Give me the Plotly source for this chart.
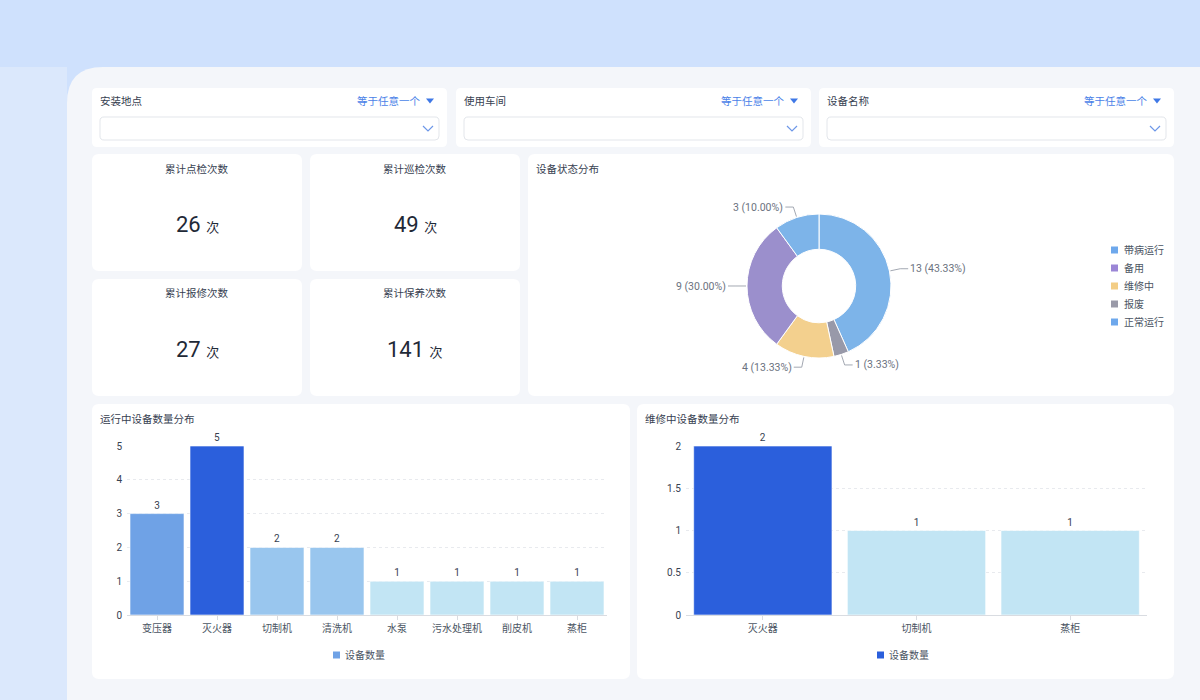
import math
import plotly.graph_objects as go

W, H = 1200, 700

# ---------------- data ----------------
filter_labels = ["安装地点", "使用车间", "设备名称"]
filter_op = "等于任意一个"

kpi_titles = ["累计点检次数", "累计巡检次数", "累计报修次数", "累计保养次数"]
kpi_values = [26, 49, 27, 141]
kpi_unit = "次"

status_labels = ["带病运行", "报废", "维修中", "备用", "正常运行"]
status_values = [13, 1, 4, 9, 3]
legend_order = ["带病运行", "备用", "维修中", "报废", "正常运行"]

running_cats = ["变压器", "灭火器", "切制机", "清洗机", "水泵", "污水处理机", "削皮机", "蒸柜"]
running_vals = [3, 5, 2, 2, 1, 1, 1, 1]
repair_cats = ["灭火器", "切制机", "蒸柜"]
repair_vals = [2, 1, 1]
series_name = "设备数量"

# ---------------- styles ----------------
status_colors = {"带病运行": "#7db4e9", "报废": "#9899a9", "维修中": "#f3d08e",
                 "备用": "#9b8fcc", "正常运行": "#7db4e9"}
legend_colors = {"带病运行": "#6ea8ec", "备用": "#9b86d6", "维修中": "#f3cd85",
                 "报废": "#9a9aa8", "正常运行": "#6ea8ec"}
running_colors = ["#6fa2e6", "#2b5fdc", "#99c6ee", "#99c6ee", "#c2e5f4", "#c2e5f4", "#c2e5f4", "#c2e5f4"]
repair_colors = ["#2b5fdc", "#c2e5f4", "#c2e5f4"]

FONT = "Roboto, 'Noto Sans CJK SC', sans-serif"
TXT = "#374151"
BLUE = "#4a82e8"


def X(px):
    return px / W


def Y(py):
    return 1 - py / H


def P(x, y):
    return f"{X(x):.5f},{Y(y):.5f}"


def rrect(x0, y0, x1, y1, r):
    return (f"M{P(x0 + r, y0)} L{P(x1 - r, y0)} Q{P(x1, y0)} {P(x1, y0 + r)} "
            f"L{P(x1, y1 - r)} Q{P(x1, y1)} {P(x1 - r, y1)} L{P(x0 + r, y1)} "
            f"Q{P(x0, y1)} {P(x0, y1 - r)} L{P(x0, y0 + r)} Q{P(x0, y0)} {P(x0 + r, y0)} Z")


shapes = []
annotations = []


def add_card(x0, y0, x1, y1, r=6, fill="#ffffff", line=None):
    shapes.append(dict(type="path", path=rrect(x0, y0, x1, y1, r), xref="paper", yref="paper",
                       fillcolor=fill, line=dict(width=1 if line else 0, color=line or fill),
                       layer="below"))


def text(x, y, s, size=11, color=TXT, xanchor="left", yanchor="middle"):
    # compensate annotation padding so x is the visible text edge
    dx = {"left": -2, "right": 2, "center": 0}[xanchor]
    annotations.append(dict(x=X(x + dx), y=Y(y), xref="paper", yref="paper", text=s, showarrow=False,
                            xanchor=xanchor, yanchor=yanchor,
                            font=dict(size=size, color=color, family=FONT)))


# ---------------- background ----------------
shapes.append(dict(type="rect", xref="paper", yref="paper", x0=0, x1=X(67), y0=0, y1=Y(67),
                   fillcolor="#dbe8fc", line=dict(width=0), layer="below"))
R0 = 36
shapes.append(dict(type="path", xref="paper", yref="paper",
                   path=f"M{P(67, 700)} L{P(67, 67 + R0)} Q{P(67, 67)} {P(67 + R0, 67)} L{P(1200, 67)} L{P(1200, 700)} Z",
                   fillcolor="#f4f6fa", line=dict(width=0), layer="below"))

# ---------------- filters ----------------
filter_x = [92, 456, 819]
for fx, lab in zip(filter_x, filter_labels):
    add_card(fx, 88, fx + 355, 147, r=5)
    text(fx + 8, 101, lab, size=10.5)
    text(fx + 329, 101, filter_op, size=10.5, color=BLUE, xanchor="right")
    tx = fx + 338
    shapes.append(dict(type="path", xref="paper", yref="paper",
                       path=f"M{P(tx - 4, 98.5)} L{P(tx + 4, 98.5)} L{P(tx, 103.5)} Z",
                       fillcolor="#3f78e6", line=dict(width=0)))
    add_card(fx + 8, 117, fx + 347, 140, r=4, fill="#ffffff", line="#e3e6eb")
    cx = fx + 336
    shapes.append(dict(type="path", xref="paper", yref="paper",
                       path=f"M{P(cx - 5, 126)} L{P(cx, 131)} L{P(cx + 5, 126)}",
                       line=dict(width=1.2, color="#6d97e8")))

# ---------------- KPI cards ----------------
kpi_boxes = [(92, 154, 302, 271), (310, 154, 520, 271), (92, 279, 302, 396), (310, 279, 520, 396)]
for (x0, y0, x1, y1), t, v in zip(kpi_boxes, kpi_titles, kpi_values):
    add_card(x0, y0, x1, y1, r=7)
    cx = (x0 + x1) / 2
    text(cx, y0 + 15, t, size=10.5, xanchor="center")
    text(cx, y0 + 70, f"{v} <span style='font-size:13px'>{kpi_unit}</span>", size=22,
         color="#1f2937", xanchor="center")

# ---------------- pie card ----------------
add_card(528, 154, 1174, 396, r=7)
text(536, 169, "设备状态分布", size=10.5)

PCX, PCY, PR = 819, 286, 72
total = sum(status_values)
cum = 0
for lab, v in zip(status_labels, status_values):
    theta = 2 * math.pi * (cum + v / 2) / total
    cum += v
    s, c = math.sin(theta), math.cos(theta)
    ex, ey = PCX + (PR + 1) * s, PCY - (PR + 1) * c
    bx, by = PCX + (PR + 11) * s, PCY - (PR + 11) * c
    d = 1 if s >= 0 else -1
    hx = bx + 8 * d
    shapes.append(dict(type="path", xref="paper", yref="paper",
                       path=f"M{P(ex, ey)} L{P(bx, by)} L{P(hx, by)}",
                       line=dict(width=1, color="#a3a8b2")))
    text(hx + 2 * d, by, f"{v} ({v / total * 100:.2f}%)", size=10.5, color="#6b7280",
         xanchor="left" if d > 0 else "right")

for i, lab in enumerate(legend_order):
    ly = 250 + 18 * i
    shapes.append(dict(type="rect", xref="paper", yref="paper", x0=X(1111), x1=X(1118),
                       y0=Y(ly + 3.5), y1=Y(ly - 3.5), fillcolor=legend_colors[lab], line=dict(width=0)))
    text(1124, ly, lab, size=10, color="#4b5563")

# ---------------- bar cards ----------------
add_card(92, 404, 630, 679, r=7)
add_card(637, 404, 1174, 679, r=7)
text(100, 419, "运行中设备数量分布", size=10.5)
text(645, 419, "维修中设备数量分布", size=10.5)

for sx, col in [(333, running_colors[0]), (877, repair_colors[0])]:
    shapes.append(dict(type="rect", xref="paper", yref="paper", x0=X(sx), x1=X(sx + 7),
                       y0=Y(658.5), y1=Y(651.5), fillcolor=col, line=dict(width=0)))
    text(sx + 12, 655, series_name, size=10, color="#4b5563")

fig = go.Figure()

fig.add_trace(go.Pie(labels=status_labels, values=status_values, hole=0.51, sort=False,
                     direction="clockwise", rotation=0, textinfo="none",
                     marker=dict(colors=[status_colors[l] for l in status_labels],
                                 line=dict(color="#ffffff", width=1)),
                     domain=dict(x=[X(PCX - PR), X(PCX + PR)], y=[Y(PCY + PR), Y(PCY - PR)]),
                     showlegend=False, hoverinfo="label+value+percent"))

bar_common = dict(texttemplate="%{y}", textposition="outside", cliponaxis=False,
                  textfont=dict(size=10, color=TXT, family=FONT), showlegend=False)
fig.add_trace(go.Bar(x=running_cats, y=running_vals, name=series_name, xaxis="x", yaxis="y",
                     marker=dict(color=running_colors, line=dict(color="rgba(255,255,255,0.6)", width=1)),
                     **bar_common))
fig.add_trace(go.Bar(x=repair_cats, y=repair_vals, name=series_name, xaxis="x2", yaxis="y2",
                     marker=dict(color=repair_colors, line=dict(color="rgba(255,255,255,0.6)", width=1)),
                     **bar_common))

xax = dict(type="category", showline=True, linecolor="#d9dce1", linewidth=1, ticks="outside",
           ticklen=4, tickcolor="#d9dce1", tickfont=dict(size=10, color="#4b5563", family=FONT),
           showgrid=False, zeroline=False, fixedrange=True, automargin=False)
yax = dict(showgrid=True, gridcolor="#e8eaee", griddash="dot", gridwidth=1, zeroline=False,
           showline=False, tickfont=dict(size=10, color=TXT, family=FONT), fixedrange=True, ticks="",
           automargin=False, ticklabelstandoff=4)

fig.update_layout(
    template="none",
    width=W, height=H, autosize=False,
    margin=dict(l=0, r=0, t=0, b=0, pad=0, autoexpand=False),
    paper_bgcolor="#cfe1fd", plot_bgcolor="rgba(0,0,0,0)",
    font=dict(family=FONT, size=11, color=TXT),
    bargap=0.1,
    showlegend=False,
    xaxis=dict(domain=[X(127), X(607)], anchor="y", **xax),
    yaxis=dict(domain=[Y(615), Y(446)], anchor="x", range=[0, 5], dtick=1, **yax),
    xaxis2=dict(domain=[X(686), X(1147)], anchor="y2", **xax),
    yaxis2=dict(domain=[Y(615), Y(446)], anchor="x2", range=[0, 2], dtick=0.5, **yax),
    shapes=shapes,
    annotations=annotations,
)

fig.write_html("out.html", config={"displayModeBar": False})
